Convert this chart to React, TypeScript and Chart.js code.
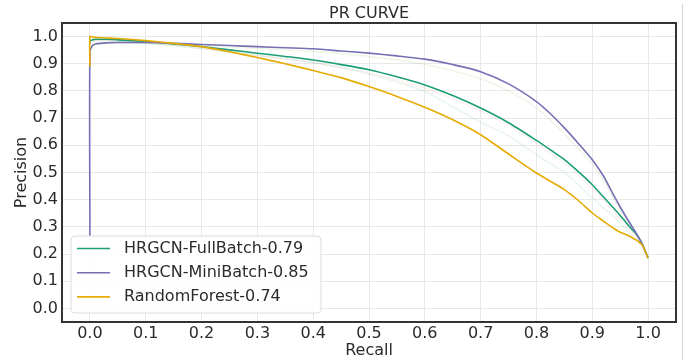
import React, { useEffect, useRef } from "react";
import { Chart, registerables } from "chart.js";

Chart.register(...registerables);

// ---------- data ----------
const RECALL = [0, 0, 0.005, 0.01, 0.03, 0.05, 0.1, 0.15, 0.2, 0.25, 0.3, 0.35, 0.4, 0.45, 0.5, 0.55, 0.6, 0.65, 0.7, 0.75, 0.8, 0.825, 0.85, 0.875, 0.9, 0.92, 0.94, 0.95, 0.96, 0.97, 0.98, 0.99, 1.0];

const FULLBATCH = [0.975, 0.985, 0.988, 0.99, 0.99, 0.988, 0.982, 0.973, 0.963, 0.951, 0.939, 0.927, 0.914, 0.897, 0.878, 0.852, 0.822, 0.783, 0.737, 0.683, 0.618, 0.583, 0.547, 0.503, 0.455, 0.41, 0.365, 0.342, 0.317, 0.293, 0.27, 0.235, 0.185];
const MINIBATCH = [0.265, 0.945, 0.968, 0.973, 0.977, 0.978, 0.978, 0.975, 0.971, 0.967, 0.963, 0.959, 0.955, 0.947, 0.939, 0.929, 0.917, 0.897, 0.871, 0.826, 0.761, 0.716, 0.664, 0.607, 0.547, 0.487, 0.41, 0.373, 0.338, 0.305, 0.272, 0.235, 0.185];
const RANDOMFOREST = [0.89, 1.0, 0.998, 0.997, 0.995, 0.993, 0.985, 0.975, 0.963, 0.944, 0.923, 0.9, 0.875, 0.849, 0.816, 0.78, 0.74, 0.694, 0.639, 0.568, 0.498, 0.468, 0.437, 0.397, 0.351, 0.321, 0.292, 0.28, 0.272, 0.262, 0.25, 0.232, 0.185];

// faint background curves
const FAINT_A = [0.97, 0.98, 0.985, 0.985, 0.984, 0.982, 0.975, 0.966, 0.955, 0.943, 0.93, 0.918, 0.905, 0.886, 0.862, 0.833, 0.798, 0.742, 0.685, 0.635, 0.565, 0.533, 0.5, 0.455, 0.406, 0.37, 0.335, 0.313, 0.292, 0.271, 0.25, 0.225, 0.185];
const FAINT_B = [0.97, 0.98, 0.985, 0.986, 0.986, 0.984, 0.978, 0.968, 0.957, 0.944, 0.931, 0.918, 0.904, 0.886, 0.866, 0.84, 0.81, 0.772, 0.726, 0.674, 0.607, 0.57, 0.535, 0.49, 0.44, 0.398, 0.352, 0.328, 0.305, 0.283, 0.262, 0.23, 0.185];
const FAINT_C = [0.94, 0.962, 0.968, 0.972, 0.975, 0.976, 0.975, 0.971, 0.966, 0.961, 0.956, 0.951, 0.945, 0.937, 0.927, 0.914, 0.898, 0.874, 0.845, 0.8, 0.738, 0.692, 0.642, 0.587, 0.53, 0.47, 0.398, 0.362, 0.325, 0.295, 0.267, 0.232, 0.185];

const SERIES_LABELS = ["HRGCN-FullBatch-0.79", "HRGCN-MiniBatch-0.85", "RandomForest-0.74"];
const SERIES_COLORS = ["#1b9e77", "#7570b3", "#e6ab02"];

const X_TICKS = [0, 0.1, 0.2, 0.3, 0.4, 0.5, 0.6, 0.7, 0.8, 0.9, 1.0];
const Y_TICKS = [0, 0.1, 0.2, 0.3, 0.4, 0.5, 0.6, 0.7, 0.8, 0.9, 1.0];

const TITLE = "PR CURVE";
const X_TITLE = "Recall";
const Y_TITLE = "Precision";

const FONT = "'DejaVu Sans', sans-serif";
const TEXT_COLOR = "#2b2b2b";

const pts = (ys: number[]) => RECALL.map((x, i) => ({ x, y: ys[i] }));

const decorPlugin = {
  id: "decor",
  afterDraw(chart: any) {
    const { ctx, chartArea } = chart;
    const { left, right, top, bottom } = chartArea;
    ctx.save();
    // frame
    ctx.strokeStyle = "#333333";
    ctx.lineWidth = 2;
    ctx.strokeRect(left, top, right - left, bottom - top);

    // titles
    ctx.fillStyle = TEXT_COLOR;
    ctx.font = `16px ${FONT}`;
    ctx.textAlign = "center";
    ctx.textBaseline = "middle";
    const cx = (left + right) / 2;
    ctx.fillText(TITLE, cx, top - 9);
    ctx.fillText(X_TITLE, cx, bottom + 29);
    ctx.save();
    ctx.translate(22, (top + bottom) / 2);
    ctx.rotate(-Math.PI / 2);
    ctx.fillText(Y_TITLE, 0, 0);
    ctx.restore();

    // legend
    const bx = left + 9;
    const bw = 250;
    const bh = 77;
    const by = bottom - 9 - bh;
    const r = 4;
    ctx.beginPath();
    ctx.moveTo(bx + r, by);
    ctx.lineTo(bx + bw - r, by);
    ctx.quadraticCurveTo(bx + bw, by, bx + bw, by + r);
    ctx.lineTo(bx + bw, by + bh - r);
    ctx.quadraticCurveTo(bx + bw, by + bh, bx + bw - r, by + bh);
    ctx.lineTo(bx + r, by + bh);
    ctx.quadraticCurveTo(bx, by + bh, bx, by + bh - r);
    ctx.lineTo(bx, by + r);
    ctx.quadraticCurveTo(bx, by, bx + r, by);
    ctx.closePath();
    ctx.fillStyle = "rgba(255,255,255,0.85)";
    ctx.fill();
    ctx.strokeStyle = "#dcdcdc";
    ctx.lineWidth = 1;
    ctx.stroke();

    ctx.textAlign = "left";
    ctx.textBaseline = "middle";
    ctx.font = `16px ${FONT}`;
    SERIES_LABELS.forEach((lab, i) => {
      const y = by + 12.5 + i * 24.2;
      ctx.strokeStyle = SERIES_COLORS[i];
      ctx.lineWidth = 1.6;
      ctx.beginPath();
      ctx.moveTo(bx + 6, y);
      ctx.lineTo(bx + 39, y);
      ctx.stroke();
      ctx.fillStyle = TEXT_COLOR;
      ctx.fillText(lab, bx + 53, y);
    });
    ctx.restore();
  },
};

export default function App() {
  const ref = useRef<HTMLCanvasElement | null>(null);

  useEffect(() => {
    if (!ref.current) return;
    const mainStyle = (i: number, order: number) => ({
      borderColor: SERIES_COLORS[i],
      backgroundColor: SERIES_COLORS[i],
      borderWidth: 1.6,
      pointRadius: 0,
      tension: 0.25,
      fill: false,
      order,
    });
    const faintStyle = (color: string) => ({
      borderColor: color,
      backgroundColor: color,
      borderWidth: 1.5,
      pointRadius: 0,
      tension: 0.25,
      fill: false,
      order: 10,
    });
    const chart = new Chart(ref.current, {
      type: "line",
      data: {
        datasets: [
          { label: "faintA", data: pts(FAINT_A), ...faintStyle("rgba(27,158,119,0.10)") },
          { label: "faintB", data: pts(FAINT_B), ...faintStyle("rgba(217,95,2,0.08)") },
          { label: "faintC", data: pts(FAINT_C), ...faintStyle("rgba(102,166,30,0.10)") },
          { label: SERIES_LABELS[0], data: pts(FULLBATCH), ...mainStyle(0, 2) },
          { label: SERIES_LABELS[1], data: pts(MINIBATCH), ...mainStyle(1, 1) },
          { label: SERIES_LABELS[2], data: pts(RANDOMFOREST), ...mainStyle(2, 0) },
        ],
      },
      options: {
        animation: false,
        responsive: false,
        maintainAspectRatio: false,
        layout: { padding: { top: 23, right: 19, left: 0, bottom: 0 } },
        plugins: {
          legend: { display: false },
          title: { display: false },
          tooltip: { enabled: false },
        },
        scales: {
          x: {
            type: "linear",
            min: -0.05,
            max: 1.05,
            afterBuildTicks: (s: any) => {
              s.ticks = X_TICKS.map((v) => ({ value: v }));
            },
            afterFit: (s: any) => {
              s.height = 38;
            },
            grid: { color: "#e8e8e8", lineWidth: 1, drawTicks: false },
            border: { display: false },
            ticks: {
              padding: 2,
              autoSkip: false,
              maxRotation: 0,
              color: TEXT_COLOR,
              font: { family: FONT, size: 16 },
              callback: (v: any) => Number(v).toFixed(1),
            },
          },
          y: {
            type: "linear",
            min: -0.05,
            max: 1.05,
            afterBuildTicks: (s: any) => {
              s.ticks = Y_TICKS.map((v) => ({ value: v }));
            },
            afterFit: (s: any) => {
              s.width = 62;
            },
            grid: { color: "#e8e8e8", lineWidth: 1, drawTicks: false },
            border: { display: false },
            ticks: {
              padding: 4,
              autoSkip: false,
              color: TEXT_COLOR,
              font: { family: FONT, size: 16 },
              callback: (v: any) => Number(v).toFixed(1),
            },
          },
        },
      },
      plugins: [decorPlugin],
    } as any);
    return () => chart.destroy();
  }, []);

  return (
    <div style={{ position: "fixed", left: 0, top: 0, width: 695, height: 360, background: "#ffffff" }}>
      <canvas ref={ref} width={695} height={360} style={{ display: "block" }} />
      <div style={{ position: "absolute", left: 682, top: 4, width: 1, height: 356, background: "#d4d4d4" }} />
    </div>
  );
}
